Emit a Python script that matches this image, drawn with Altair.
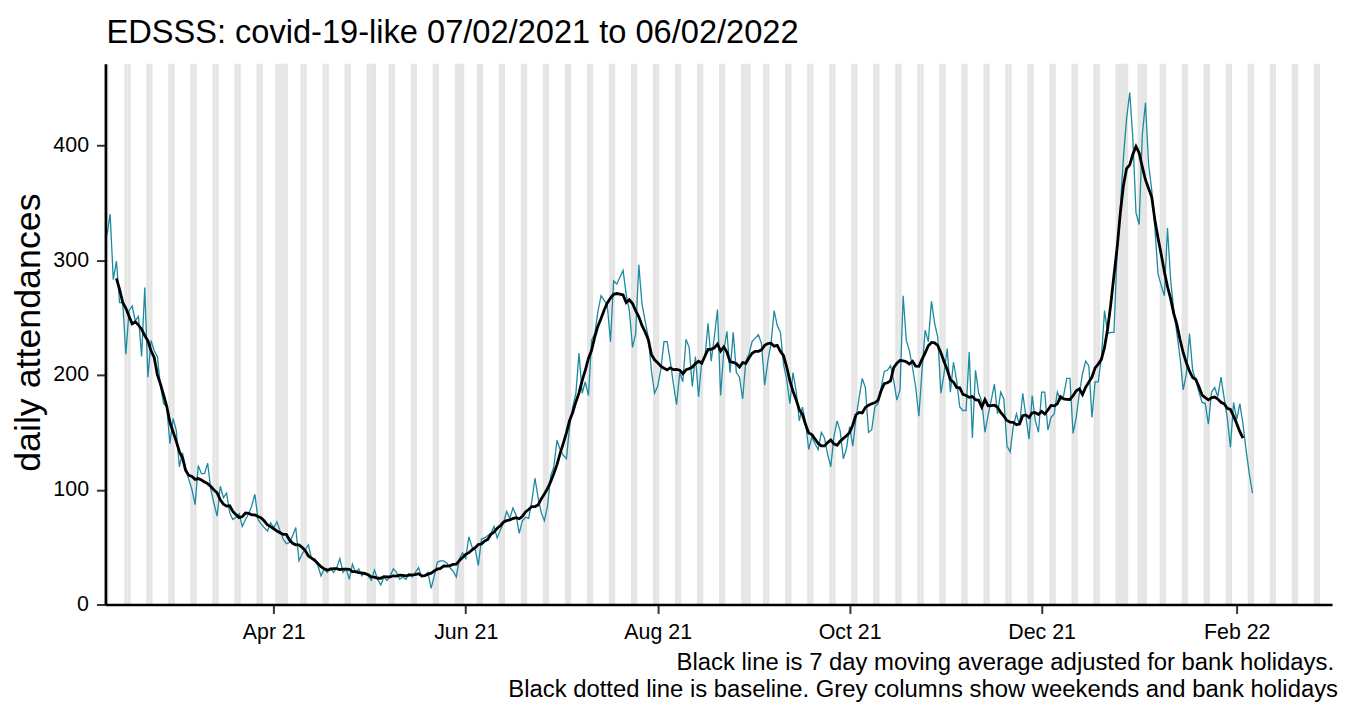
import altair as alt
import pandas as pd

# ---------------- data ----------------
title_text = "EDSSS: covid-19-like 07/02/2021 to 06/02/2022"
y_title = "daily attendances"
caption_line1 = ["Black line is 7 day moving average adjusted for bank holidays."]
caption_line2 = ["Black dotted line is baseline. Grey columns show weekends and bank holidays"]

first_day = "2021-02-07"
attendances = [
    322, 340, 283, 299, 263, 263, 218, 256, 260, 247,
    251, 216, 276, 198, 230, 221, 216, 190, 175, 172,
    140, 162, 152, 120, 132, 118, 109, 100, 87, 121,
    114, 114, 123, 100, 88, 77, 103, 93, 97, 80,
    74, 76, 79, 68, 74, 79, 86, 96, 74, 70,
    67, 64, 71, 67, 72, 64, 57, 53, 54, 60,
    67, 38, 44, 48, 52, 40, 40, 34, 25, 31,
    28, 32, 28, 32, 40, 28, 31, 22, 35, 28,
    31, 25, 28, 25, 21, 30, 22, 17, 24, 21,
    25, 31, 28, 22, 24, 22, 27, 24, 28, 32,
    24, 25, 28, 14, 25, 37, 38, 38, 36, 32,
    29, 24, 40, 45, 40, 59, 50, 48, 34, 57,
    58, 60, 62, 68, 58, 65, 71, 81, 75, 84,
    78, 62, 73, 76, 75, 90, 110, 93, 80, 73,
    86, 112, 120, 143, 135, 130, 127, 155, 172, 184,
    219, 184, 194, 182, 230, 236, 255, 269, 265, 260,
    229, 282, 279, 285, 291, 270, 256, 224, 236, 296,
    262, 247, 233, 204, 184, 190, 205, 229, 229, 212,
    192, 174, 202, 194, 231, 224, 190, 216, 181, 212,
    215, 245, 212, 233, 257, 182, 221, 238, 202, 237,
    202, 198, 179, 212, 218, 229, 232, 235, 227, 191,
    212, 227, 256, 243, 237, 209, 196, 175, 202, 186,
    160, 172, 158, 135, 146, 140, 135, 150, 145, 131,
    120, 146, 160, 151, 127, 136, 155, 138, 162, 180,
    197, 189, 150, 152, 172, 175, 189, 203, 204, 208,
    195, 178, 187, 269, 230, 221, 206, 189, 164, 204,
    239, 229, 264, 245, 233, 184, 201, 223, 185, 211,
    195, 172, 169, 169, 220, 145, 204, 184, 177, 150,
    165, 178, 192, 166, 185, 179, 138, 133, 155, 166,
    156, 184, 164, 144, 182, 160, 150, 185, 185, 152,
    163, 166, 185, 178, 182, 197, 197, 149, 163, 184,
    201, 212, 208, 163, 194, 194, 215, 256, 236, 237,
    237, 308, 345, 389, 423, 446, 406, 341, 331, 409,
    437, 383, 361, 328, 288, 278, 269, 328, 283, 256,
    236, 215, 187, 201, 236, 204, 195, 185, 176, 175,
    157, 185, 189, 181, 198, 180, 163, 137, 176, 161,
    175, 157, 134, 114, 97,
]
bank_holidays = ["2021-04-02", "2021-04-05", "2021-05-03", "2021-05-31",
                 "2021-08-30", "2021-12-27", "2021-12-28", "2022-01-03"]
grey_last_day = "2022-03-02"
tick_dates = ["2021-04-01", "2021-06-01", "2021-08-01", "2021-10-01",
              "2021-12-01", "2022-02-01"]
x_limits = ["2021-02-06 12:00", "2022-03-03 07:00"]
y_ticks = [0, 100, 200, 300, 400]
y_limits = [0, 471]

# ---------------- helpers ----------------
DAY_MS = 86400000
HALF_DAY = DAY_MS // 2


def ms(ts):
    return int(pd.Timestamp(ts, tz="UTC").value // 10**6)


FONT = "Liberation Sans"
TEAL = "#1c8aa0"
GREY = "#E5E5E5"
W, H = 1234, 544

day0 = ms(first_day)
df = pd.DataFrame({
    "t": [day0 + i * DAY_MS for i in range(len(attendances))],
    "value": attendances,
})
df["ma"] = df["value"].rolling(7, center=True).mean()
ma_df = df.dropna().reset_index(drop=True)

all_days = pd.date_range(first_day, grey_last_day, freq="D")
bh = set(pd.to_datetime(bank_holidays))
grey_days = [d for d in all_days if d.dayofweek >= 5 or d in bh]
grey_df = pd.DataFrame({
    "t0": [ms(d.strftime("%Y-%m-%d")) - HALF_DAY for d in grey_days],
    "t1": [ms(d.strftime("%Y-%m-%d")) + HALF_DAY for d in grey_days],
})

x_scale = alt.Scale(type="utc", domain=[ms(x_limits[0]), ms(x_limits[1])], nice=False)
x_axis = alt.Axis(
    values=[ms(t) for t in tick_dates], format="%b %y", title=None, grid=False,
    labelFont=FONT, labelFontSize=21.5, labelColor="black", labelPadding=8,
    tickSize=9, tickWidth=2, tickColor="#333333",
    domainColor="black", domainWidth=2.7, labelFlush=False, zindex=1,
)
y_scale = alt.Scale(domain=y_limits, nice=False, zero=True)
y_axis = alt.Axis(
    values=y_ticks, title=y_title, grid=False,
    labelFont=FONT, labelFontSize=21.5, labelColor="black", labelPadding=8,
    tickSize=9, tickWidth=2, tickColor="#333333",
    domainColor="black", domainWidth=2.7, zindex=1,
    titleFont=FONT, titleFontSize=36, titleFontWeight="normal", titleColor="black",
    titleAngle=270, titleX=-77, titleY=270, titleAlign="center", titleBaseline="middle",
)

grey = alt.Chart(grey_df).mark_rect(color=GREY, strokeWidth=0).encode(
    x=alt.X("t0:T", scale=x_scale, axis=x_axis),
    x2="t1:T",
    y=alt.value(0),
    y2=alt.value(H),
)

daily = alt.Chart(df).mark_line(color=TEAL, strokeWidth=1.3).encode(
    x=alt.X("t:T", scale=x_scale, axis=x_axis),
    y=alt.Y("value:Q", scale=y_scale, axis=y_axis),
)

ma = alt.Chart(ma_df).mark_line(color="black", strokeWidth=2.8).encode(
    x=alt.X("t:T", scale=x_scale, axis=x_axis),
    y=alt.Y("ma:Q", scale=y_scale, axis=y_axis),
)

title = alt.Chart(pd.DataFrame({"label": [title_text]})).mark_text(
    align="left", baseline="alphabetic", font=FONT, fontSize=32.8, color="black"
).encode(x=alt.value(1), y=alt.value(-21), text="label:N")

cap1 = alt.Chart(pd.DataFrame({"label": caption_line1})).mark_text(
    align="right", baseline="alphabetic", font=FONT, fontSize=24, color="black"
).encode(x=alt.value(1236), y=alt.value(610), text="label:N")

cap2 = alt.Chart(pd.DataFrame({"label": caption_line2})).mark_text(
    align="right", baseline="alphabetic", font=FONT, fontSize=24, color="black"
).encode(x=alt.value(1240), y=alt.value(637), text="label:N")

chart = alt.layer(grey, daily, ma, title, cap1, cap2).properties(
    width=W, height=H,
    padding={"left": 98, "top": 54, "right": 6, "bottom": 99},
    autosize=alt.AutoSizeParams(type="none"),
).configure_view(stroke=None)

chart.save("out.html", embed_options={"renderer": "svg", "actions": False})
